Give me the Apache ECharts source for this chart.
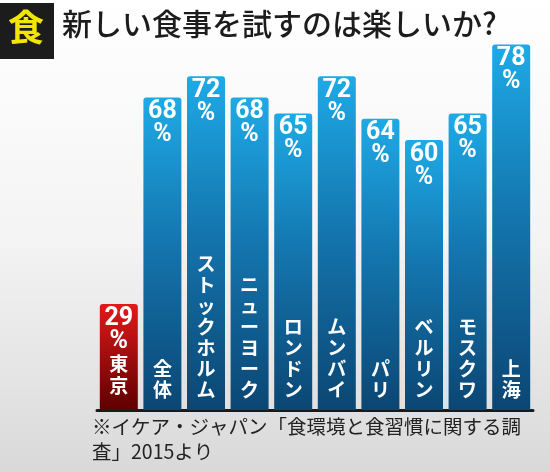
<!DOCTYPE html>
<html><head><meta charset="utf-8">
<script src="https://cdn.jsdelivr.net/npm/echarts@6/dist/echarts.min.js"></script>
<style>html,body{margin:0;padding:0;}#c{width:550px;height:472px;}</style>
</head><body><div id="c"></div>
<script>
const categories = ['東京','全体','ストックホルム','ニューヨーク','ロンドン','ムンバイ','パリ','ベルリン','モスクワ','上海'];
const values = [29,68,72,68,65,72,64,60,65,78];
const highlight = '東京';
const titleText = '新しい食事を試すのは楽しいか?';
const note1 = '※イケア・ジャパン「食環境と食習慣に関する調';
const note2 = '査」2015より';

const blue = new echarts.graphic.LinearGradient(0,0,0,1,[{offset:0,color:'#1eaae6'},{offset:0.45,color:'#1477b0'},{offset:1,color:'#0b4673'}]);
const red = new echarts.graphic.LinearGradient(0,0,0,1,[{offset:0,color:'#e01a1a'},{offset:1,color:'#5e0000'}]);
const chart = echarts.init(document.getElementById('c'));
const font = '"Noto Sans CJK JP", Roboto, sans-serif';
const vert = s => s.split('').join('\n');
chart.setOption({
  backgroundColor: new echarts.graphic.LinearGradient(0,0,0,1,[{offset:0,color:'#ffffff'},{offset:0.5,color:'#f4f4f4'},{offset:1,color:'#d9d9d9'}]),
  animation:false,
  grid:{left:97,right:17,top:34,bottom:62},
  xAxis:{type:'category',data:categories,axisLabel:{show:false},axisTick:{show:false},
    axisLine:{lineStyle:{color:'#1a1a1a',width:3}}},
  yAxis:{type:'value',min:9,max:80,show:false,splitLine:{show:false}},
  series:[
    {type:'bar',barWidth:38,z:2,
     data:values.map((v,i)=>({value:v,itemStyle:{color:categories[i]===highlight?red:blue,borderRadius:[3,3,0,0]}})),
     label:{show:true,position:'insideTop',distance:3,color:'#fff',fontWeight:'bold',
       formatter:p=>categories[p.dataIndex]===highlight
         ? '{n|'+p.value+'}\n{n|%}\n{c|'+vert(categories[p.dataIndex]).split('\n').join('}\n{c|')+'}'
         : '{n|'+p.value+'}\n{n|%}',
       rich:{n:{fontFamily:'Roboto, sans-serif',fontWeight:'bold',fontSize:25,lineHeight:23,color:'#fff'},
             c:{fontFamily:font,fontWeight:'bold',fontSize:19,lineHeight:22,color:'#fff'}}}},
    {type:'bar',barWidth:38,barGap:'-100%',z:3,
     data:values.map(v=>({value:v,itemStyle:{color:'rgba(0,0,0,0)'}})),
     label:{show:true,position:'insideBottom',distance:10,color:'#fff',fontFamily:font,fontWeight:'bold',fontSize:19,lineHeight:21,
       formatter:p=>categories[p.dataIndex]===highlight?'':vert(categories[p.dataIndex])}}
  ],
  graphic:[
    {type:'rect',shape:{x:0,y:3,width:54,height:56},style:{fill:'#1c1c1c'}},
    {type:'text',left:8,top:9,style:{text:'食',fill:'#f2e600',font:'bold 36px "Noto Sans CJK JP"'}},
    {type:'text',left:62,top:9,style:{text:titleText,fill:'#1c1c1c',font:'500 30px "Noto Sans CJK JP"'}},
    {type:'text',left:92,top:417,style:{text:note1,fill:'#222',font:'19.5px "Noto Sans CJK JP"'}},
    {type:'text',left:92,top:442,style:{text:note2,fill:'#222',font:'19.5px "Noto Sans CJK JP"'}}
  ]
});
</script></body></html>
